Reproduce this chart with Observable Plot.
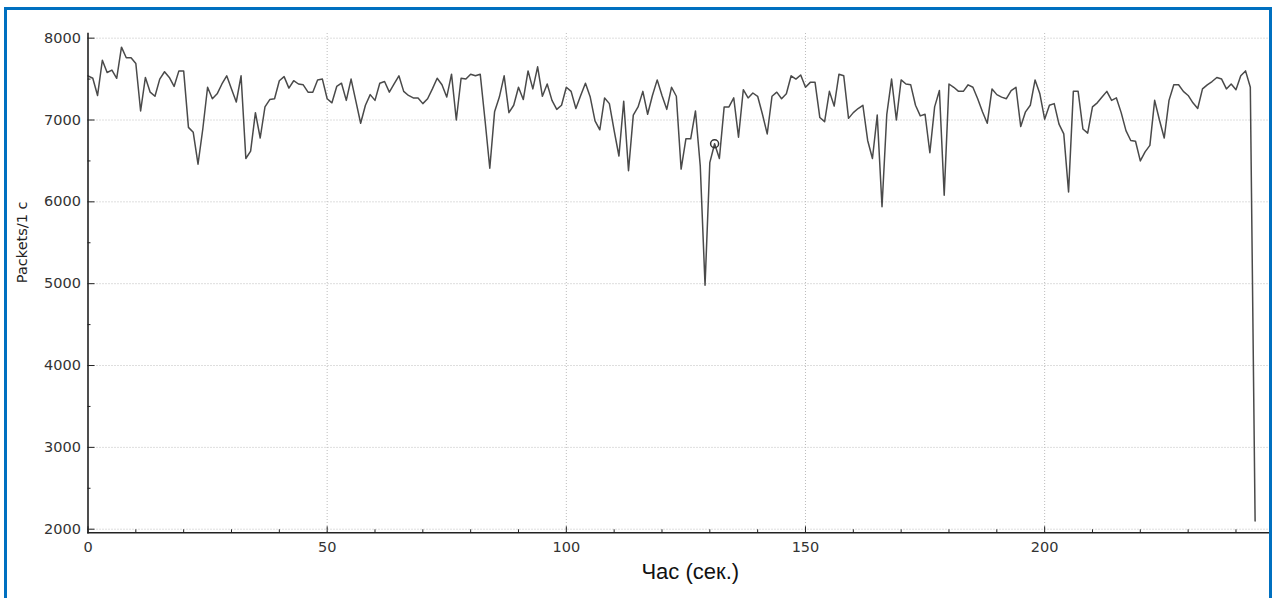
<!DOCTYPE html>
<html>
<head>
<meta charset="utf-8">
<script src="https://cdn.jsdelivr.net/npm/d3@7"></script>
<script src="https://cdn.jsdelivr.net/npm/@observablehq/plot@0.6"></script>
<style>
  html, body { margin: 0; padding: 0; background: #fff; overflow: hidden; width: 1278px; height: 598px; }
  #chart { position: absolute; left: 0; top: 0; }
  #frame { position: absolute; left: 4px; top: 7px; width: 1268px; height: 620px;
           border: 3px solid #0070c0; border-bottom: none; box-sizing: border-box; pointer-events: none; }
</style>
</head>
<body>
<div id="chart"></div>
<div id="frame"></div>
<script>
// Packets per second, one reading per second starting at t = 0
const packets = [
  7540, 7510, 7300, 7730, 7580, 7610, 7510, 7890, 7760, 7760,
  7690, 7110, 7520, 7340, 7290, 7500, 7590, 7520, 7410, 7600,
  7600, 6910, 6850, 6460, 6890, 7400, 7260, 7320, 7440, 7540,
  7380, 7220, 7540, 6530, 6620, 7090, 6780, 7160, 7250, 7260,
  7480, 7530, 7390, 7480, 7440, 7430, 7340, 7340, 7490, 7500,
  7260, 7210, 7410, 7450, 7240, 7500, 7230, 6960, 7180, 7310,
  7240, 7450, 7470, 7340, 7440, 7540, 7350, 7300, 7270, 7270,
  7200, 7260, 7380, 7510, 7430, 7280, 7560, 7000, 7510, 7500,
  7560, 7540, 7560, 7000, 6410, 7100, 7280, 7540, 7090, 7180,
  7400, 7250, 7600, 7380, 7650, 7290, 7440, 7240, 7130, 7180,
  7400, 7350, 7140, 7300, 7450, 7280, 6990, 6880, 7270, 7200,
  6870, 6560, 7230, 6380, 7060, 7160, 7350, 7070, 7300, 7490,
  7300, 7130, 7400, 7290, 6400, 6770, 6770, 7110, 6440, 4980,
  6480, 6710, 6530, 7160, 7160, 7270, 6790, 7370, 7270, 7330,
  7290, 7070, 6830, 7290, 7340, 7260, 7320, 7540, 7500, 7550,
  7400, 7460, 7460, 7030, 6980, 7350, 7170, 7560, 7540, 7020,
  7090, 7140, 7180, 6750, 6530, 7060, 5940, 7070, 7500, 7000,
  7490, 7440, 7430, 7180, 7050, 7070, 6600, 7160, 7360, 6080,
  7440, 7400, 7350, 7350, 7430, 7400, 7260, 7100, 6960, 7380,
  7310, 7280, 7260, 7360, 7400, 6920, 7100, 7180, 7490, 7320,
  7010, 7180, 7200, 6950, 6830, 6120, 7350, 7350, 6890, 6840,
  7160, 7210, 7280, 7350, 7240, 7270, 7090, 6870, 6750, 6740,
  6500, 6610, 6690, 7240, 7000, 6780, 7240, 7430, 7430, 7350,
  7300, 7210, 7140, 7380, 7430, 7470, 7520, 7500, 7380, 7440,
  7370, 7540, 7600, 7400, 2100
];

// Highlighted sample (second)
const markedSeconds = [131];

// Axis ticks
const yTicks = [2000, 3000, 4000, 5000, 6000, 7000, 8000];
const yMinorTicks = [2500, 3500, 4500, 5500, 6500, 7500];
const xTicks = [0, 50, 100, 150, 200];
const xMinorTicks = [10, 20, 30, 40, 60, 70, 80, 90, 110, 120, 130, 140, 160, 170, 180, 190, 210, 220, 230, 240];

const xLabel = "Час (сек.)";
const yLabel = "Packets/1 c";

const series = packets.map((v, i) => ({ t: i, v }));
const marked = series.filter(d => markedSeconds.includes(d.t));

const gridStyle = { stroke: "#bcbcbc", strokeOpacity: 1, strokeWidth: 1, strokeDasharray: "1,2" };
const tickFont = { fontSize: 14.5, fontFamily: "DejaVu Sans", tickFormat: d3.format("d"), fill: "#333" };

const chart = Plot.plot({
  width: 1278,
  height: 598,
  marginLeft: 87.5,
  marginRight: 10,
  marginTop: 33,
  marginBottom: 65.7,
  style: { background: "transparent", fontFamily: "DejaVu Sans", fontSize: "14px", color: "#333" },
  x: { domain: [0, 246.8] },
  y: { domain: [1956, 8057] },
  marks: [
    Plot.gridX(xTicks.filter(d => d > 0), gridStyle),
    Plot.gridY(yTicks, gridStyle),
    Plot.line(series, { x: "t", y: "v", stroke: "#4a4a4a", strokeWidth: 1.5 }),
    Plot.dot(marked, { x: "t", y: "v", r: 4, stroke: "#333", strokeWidth: 1.5, fill: "none" }),
    Plot.frame({ anchor: "left", stroke: "#222", strokeWidth: 1.6 }),
    Plot.frame({ anchor: "bottom", stroke: "#222", strokeWidth: 1.6 }),
    Plot.axisX(xTicks, { tickSize: -6, tickPadding: 15, label: null, stroke: "#222", ...tickFont }),
    Plot.axisX(xMinorTicks, { tickSize: -3, tickFormat: () => "", label: null, stroke: "#222" }),
    Plot.axisY(yTicks, { tickSize: -7, tickPadding: 14, label: null, stroke: "#222", ...tickFont }),
    Plot.axisY(yMinorTicks, { tickSize: -3, tickFormat: () => "", label: null, stroke: "#222" }),
    Plot.text([xLabel], { frameAnchor: "bottom", lineAnchor: "bottom", dx: 12, dy: 46,
      fontSize: 22, fontFamily: "Liberation Sans", fill: "#111" }),
    Plot.text([yLabel], { frameAnchor: "left", rotate: -90, dx: -66,
      fontSize: 14.5, fontFamily: "DejaVu Sans", fill: "#222" })
  ]
});

document.getElementById("chart").appendChild(chart);
</script>
</body>
</html>
